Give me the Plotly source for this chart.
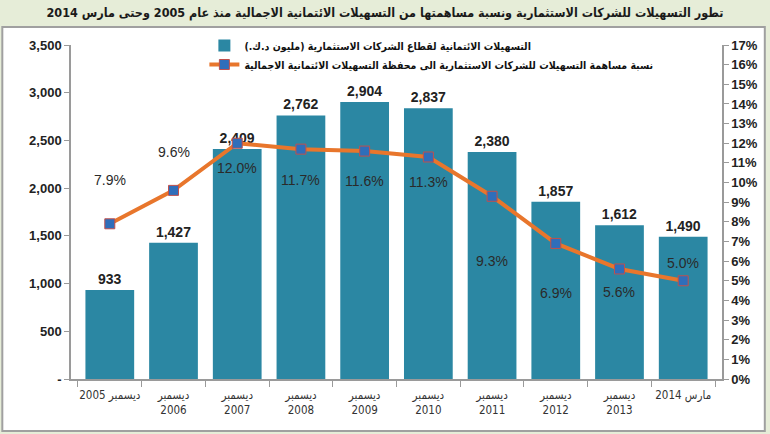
import plotly.graph_objects as go

# ---- data ----
categories = ["ديسمبر 2005", "ديسمبر<br>2006", "ديسمبر<br>2007", "ديسمبر<br>2008",
              "ديسمبر<br>2009", "ديسمبر<br>2010", "ديسمبر<br>2011", "ديسمبر<br>2012",
              "ديسمبر<br>2013", "مارس 2014"]
facilities = [933, 1427, 2409, 2762, 2904, 2837, 2380, 1857, 1612, 1490]
share_pct = [7.9, 9.6, 12.0, 11.7, 11.6, 11.3, 9.3, 6.9, 5.6, 5.0]
left_tickvals = [0, 500, 1000, 1500, 2000, 2500, 3000, 3500]
left_ticktext = ["-", "500", "1,000", "1,500", "2,000", "2,500", "3,000", "3,500"]
right_tickvals = list(range(0, 18))
right_ticktext = [f"{v}%" for v in right_tickvals]

bar_name = "التسهيلات الائتمانية لقطاع الشركات الاستثمارية (مليون د.ك.)"
line_name = "نسبة مساهمة التسهيلات للشركات الاستثمارية الى محفظة التسهيلات الائتمانية الاجمالية"
title_text = "تطور التسهيلات للشركات الاستثمارية ونسبة مساهمتها من التسهيلات الائتمانية الاجمالية منذ عام 2005 وحتى مارس 2014"

# label offsets (style only, px; positive = above point)
pct_label_shift = [44, 38, -25, -31, -30, -25, -65, -50, -23, 18]

# ---- layout geometry ----
W, H = 770, 434
L, R, T, B = 71, 45, 45, 55
pw, ph = W - L - R, H - T - B

def px_x(x):
    return (x - L) / pw

def px_y(y):
    return (H - B - y) / ph

FONT = "Liberation Sans, Arial, DejaVu Sans, sans-serif"
ARFONT = "DejaVu Sans Condensed, DejaVu Sans, sans-serif"
BAR_COLOR = "#2B87A3"
LINE_COLOR = "#E8762C"

fig = go.Figure()
fig.add_trace(go.Bar(
    x=categories, y=facilities, name=bar_name,
    marker=dict(color=BAR_COLOR, line=dict(width=0)),
    text=[f"{v:,}" for v in facilities], textposition="outside",
    textfont=dict(family=FONT, size=14, color="#222222", weight="bold"),
    cliponaxis=False, yaxis="y",
))
fig.add_trace(go.Scatter(
    x=categories, y=share_pct, name=line_name, mode="lines+markers",
    line=dict(color=LINE_COLOR, width=4),
    marker=dict(symbol="square", size=10, color="#2F6EBA",
                line=dict(color="#C0504D", width=1)),
    yaxis="y2",
))

for c, v, s in zip(categories, share_pct, pct_label_shift):
    fig.add_annotation(x=c, y=v, xref="x", yref="y2", text=f"{v:.1f}%",
                       showarrow=False, yshift=s,
                       font=dict(family=FONT, size=14, color="#2a2a2a"))

# chart frame box
fig.add_shape(type="rect", xref="paper", yref="paper", layer="below",
              x0=px_x(2), x1=px_x(768), y0=px_y(431), y1=px_y(27),
              fillcolor="white", line=dict(color="#A0A0A0", width=2))

fig.update_layout(
    width=W, height=H,
    margin=dict(l=L, r=R, t=T, b=B),
    paper_bgcolor="#E6EDD8", plot_bgcolor="rgba(0,0,0,0)",
    title=dict(text=title_text, x=0.5, xref="container", xanchor="center",
               y=1 - 13 / H, yref="container", yanchor="middle",
               font=dict(family=ARFONT, size=12.5, color="#1a1a1a", weight="bold")),
    bargap=0.235,
    showlegend=True,
    legend=dict(x=px_x(205), y=px_y(31), xanchor="left", yanchor="top",
                bgcolor="rgba(0,0,0,0)", traceorder="normal",
                font=dict(family=ARFONT, size=10.5, color="#111111", weight="bold"),
                tracegroupgap=2, itemwidth=30),
    xaxis=dict(showline=True, linecolor="#9a9a9a", linewidth=1.5,
               ticks="outside", ticklen=6, tickcolor="#9a9a9a", tickson="boundaries",
               tickangle=0, ticklabelstandoff=4,
               tickfont=dict(family="DejaVu Sans Condensed, DejaVu Sans, sans-serif",
                             size=11.5, color="#333333"),
               showgrid=False, fixedrange=True),
    yaxis=dict(range=[0, 3500], tickvals=left_tickvals, ticktext=left_ticktext,
               showline=True, linecolor="#9a9a9a", linewidth=1.5,
               ticks="outside", ticklen=5, tickcolor="#9a9a9a",
               tickfont=dict(family=FONT, size=13, color="#222222", weight="bold"),
               showgrid=False, zeroline=False),
    yaxis2=dict(range=[0, 17], overlaying="y", side="right",
                tickvals=right_tickvals, ticktext=right_ticktext,
                showline=True, linecolor="#9a9a9a", linewidth=1.5,
                ticks="outside", ticklen=5, tickcolor="#9a9a9a",
                tickfont=dict(family=FONT, size=13, color="#222222", weight="bold"),
                showgrid=False, zeroline=False),
)

fig.write_html("out.html")
